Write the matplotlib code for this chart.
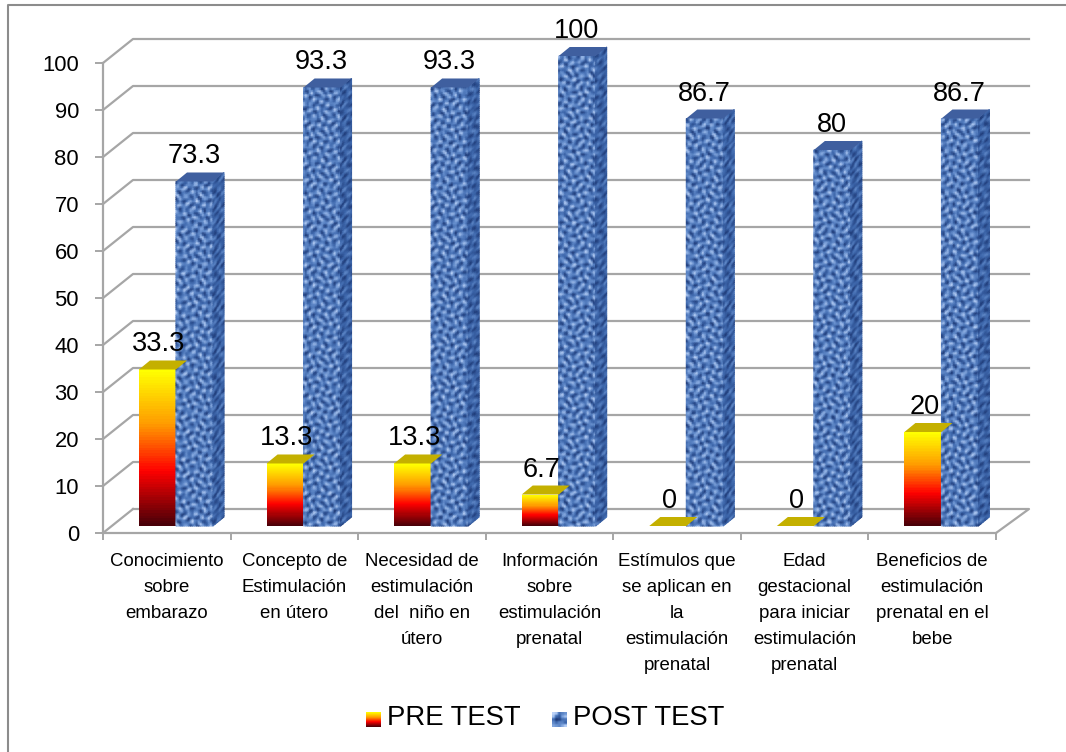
import numpy as np
import matplotlib
matplotlib.use('Agg')
import matplotlib.pyplot as plt
from matplotlib.colors import LinearSegmentedColormap

categories = ['Conocimiento\nsobre\nembarazo',
              'Concepto de\nEstimulación\nen útero',
              'Necesidad de\nestimulación\ndel  niño en\nútero',
              'Información\nsobre\nestimulación\nprenatal',
              'Estímulos que\nse aplican en\nla\nestimulación\nprenatal',
              'Edad\ngestacional\npara iniciar\nestimulación\nprenatal',
              'Beneficios de\nestimulación\nprenatal en el\nbebe']
pre_test = [33.3, 13.3, 13.3, 6.7, 0, 0, 20]
post_test = [73.3, 93.3, 93.3, 100, 86.7, 80, 86.7]
pre_labels = ['33.3', '13.3', '13.3', '6.7', '0', '0', '20']
post_labels = ['73.3', '93.3', '93.3', '100', '86.7', '80', '86.7']

W, H = 1066, 752
plt.rcParams['font.family'] = ['Liberation Sans', 'DejaVu Sans']

fig = plt.figure(figsize=(W / 100, H / 100), dpi=100)
fig.patch.set_facecolor('white')
# chart area border, only top and left show
fig.add_artist(plt.Line2D([7.5 / W, 7.5 / W, 1], [0, 1 - 4.5 / H, 1 - 4.5 / H], color='#8c8c8c', lw=1.5))

# front plane of the chart: x in categories, y in percent
ax = fig.add_axes([103 / W, 1 - 533 / H, 893 / W, 470 / H])
ax.set_xlim(0, 7)
ax.set_ylim(0, 100)
ax.patch.set_alpha(0)

px_x = 7 / 893
px_y = 100 / 470

flame = LinearSegmentedColormap.from_list('flame', [(0, '#4a0008'), (0.35, '#ff0000'), (0.65, '#ff9a00'), (1, '#ffff00')])
weave = LinearSegmentedColormap.from_list('weave', ['#1f3b78', '#3f69ae', '#6f97d4', '#c0d6fa'])


def weave_texture(ny, nx, phase):
    j, i = np.mgrid[0:ny, 0:nx]
    a = np.sin(i * 1.57 + phase + 1.9 * np.sin(j * 0.61)) + np.sin(j * 1.49 + 2.1 * np.sin(i * 0.53 + phase))
    b = np.sin((i + 2 * j) * 0.83 + phase) * np.cos((2 * i - j) * 0.71)
    t = 0.47 + 0.24 * a + 0.2 * b
    return np.clip(t, 0, 1)


def wall_lines():
    grey = '#a6a6a6'
    for v in range(0, 101, 10):
        ax.plot([0, 30 * px_x, 926 * px_x] if v else [0, 30 * px_x],
                [v, v + 24 * px_y, v + 24 * px_y] if v else [0, 24 * px_y],
                color=grey, lw=1.6, clip_on=False, zorder=1)
    ax.plot([30 * px_x, 926 * px_x, 893 * px_x], [24 * px_y, 24 * px_y, 0],
            color=grey, lw=1.6, clip_on=False, zorder=1)


def draw_bar(x0, value, width, cmap, top_color, textured, phase=0.0):
    # front face sits 7 px in front of the floor edge
    base_x, base_y = x0, 7 * px_y
    if textured:
        nx, ny = 18, max(int(value * 4.7 / 2), 2)
        xs = np.linspace(base_x, base_x + width, nx + 1)
        ys = np.linspace(base_y, base_y + value * 4.7 * px_y, ny + 1)
        X, Y = np.meshgrid(xs, ys)
        ax.pcolormesh(X, Y, weave_texture(ny + 1, nx + 1, phase), cmap=cmap, vmin=0, vmax=1,
                      shading='gouraud', clip_on=False, zorder=4)
        # side face, darker and skewed back
        sx = np.linspace(0, 11 * px_x, 6)
        sy = np.linspace(0, 9 * px_y, 6)
        xs2 = base_x + width + sx
        X2 = np.tile(xs2, (ny + 1, 1))
        Y2 = ys[:, None] + sy[None, :]
        ax.pcolormesh(X2, Y2, weave_texture(ny + 1, 6, phase + 2) * 0.6, cmap=cmap, vmin=0, vmax=1,
                      shading='gouraud', clip_on=False, zorder=4)
    elif value > 0:
        ys = np.linspace(base_y, base_y + value * 4.7 * px_y, 61)
        grad = np.linspace(0, 1, 60)[:, None]
        ax.pcolormesh([base_x, base_x + width], ys, grad, cmap=cmap, vmin=0, vmax=1,
                      clip_on=False, zorder=3)
    top = base_y + value * 4.7 * px_y
    ax.fill([base_x, base_x + width, base_x + width + 11 * px_x, base_x + 11 * px_x],
            [top, top, top + 9 * px_y, top + 9 * px_y],
            color=top_color, lw=0, clip_on=False, zorder=5)


wall_lines()

pre_w = 37 * px_x
start = 36 * px_x
for i, (p, q) in enumerate(zip(pre_test, post_test)):
    x_pre = i + start
    x_post = x_pre + pre_w
    draw_bar(x_pre, p, pre_w, flame, '#c4b000', False)
    draw_bar(x_post, q, pre_w, weave, '#3f5f9f', True, phase=i * 1.4)
    ax.text(x_pre + 20 * px_x, (7 + p * 4.7 + 12) * px_y, pre_labels[i], fontsize=19.5,
            ha='center', va='bottom', zorder=6, clip_on=False)
    ax.text(x_post + 18 * px_x, (7 + q * 4.7 + 12) * px_y, post_labels[i], fontsize=19.5,
            ha='center', va='bottom', zorder=6, clip_on=False)

for s in ('top', 'right'):
    ax.spines[s].set_visible(False)
for s in ('left', 'bottom'):
    ax.spines[s].set_color('#a6a6a6')
    ax.spines[s].set_linewidth(1.6)
ax.set_yticks(range(0, 101, 10))
ax.tick_params(axis='y', length=5.8, width=1.4, color='#a6a6a6', labelsize=15.8, pad=11.5)
ax.set_xticks(range(8))
ax.set_xticklabels([])
ax.tick_params(axis='x', length=5, width=1.4, color='#a6a6a6')

for i, c in enumerate(categories):
    ax.text(i + 0.5, -4.3, c, ha='center', va='top', fontsize=13.4, linespacing=1.69, clip_on=False)

# legend built by hand from the two colour ramps
lax = fig.add_axes([366 / W, 1 - 727 / H, 15 / W, 15 / H])
lax.imshow(np.linspace(1, 0, 30)[:, None], cmap=flame, aspect='auto', vmin=0, vmax=1)
lax.axis('off')
lax2 = fig.add_axes([552 / W, 1 - 727 / H, 15 / W, 15 / H])
lax2.imshow(weave_texture(5, 5, 0.7), cmap=weave, aspect='auto', vmin=0, vmax=1)
lax2.axis('off')
fig.text(387 / W, 1 - 718 / H, 'PRE TEST', fontsize=19.8, va='center', ha='left')
fig.text(573 / W, 1 - 718 / H, 'POST TEST', fontsize=19.8, va='center', ha='left')

fig.savefig('out.png', dpi=100)
